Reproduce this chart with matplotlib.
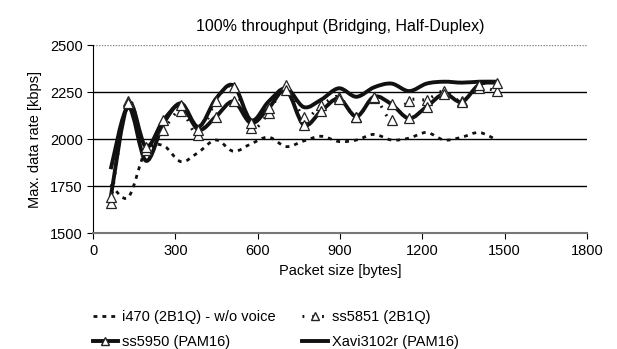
import numpy as np
import matplotlib
matplotlib.use("Agg")
import matplotlib.pyplot as plt
from matplotlib.path import Path
from matplotlib.patches import PathPatch
from matplotlib.lines import Line2D

plt.rcParams['font.family'] = ['Liberation Sans', 'DejaVu Sans']

# === Data ===
packet_size = [64, 128, 192, 256, 320, 384, 448, 512, 576, 640, 704, 768,
               832, 896, 960, 1024, 1088, 1152, 1216, 1280, 1344, 1408, 1472]

i470 = [1760, 1690, 1940, 1965, 1880, 1930, 1995, 1935, 1975, 2010, 1960, 1990,
        2015, 1987, 1995, 2025, 1995, 2005, 2035, 1995, 2010, 2035, 1995]
ss5851 = [1660, 2200, 1940, 2050, 2150, 2020, 2205, 2278, 2060, 2140, 2285, 2115,
          2180, 2225, 2120, 2220, 2100, 2205, 2210, 2255, 2200, 2270, 2255]
ss5950 = [1690, 2190, 1960, 2100, 2180, 2050, 2120, 2200, 2085, 2165, 2260, 2075,
          2150, 2215, 2120, 2225, 2185, 2110, 2172, 2240, 2198, 2290, 2300]
xavi = [1840, 2170, 1885, 2080, 2190, 2065, 2215, 2285, 2100, 2200, 2270, 2170,
        2210, 2270, 2225, 2275, 2295, 2255, 2295, 2305, 2300, 2305, 2305]

labels = ['i470 (2B1Q) - w/o voice', 'ss5851 (2B1Q)', 'ss5950 (PAM16)', 'Xavi3102r (PAM16)']


# === Smoothed line like a spreadsheet "smooth line" (Bezier path through the points) ===
def smooth_path(x, y):
    p = np.column_stack([x, y]).astype(float)
    verts = [p[0]]
    codes = [Path.MOVETO]
    n = len(p)
    for i in range(n - 1):
        p0 = p[i - 1] if i > 0 else p[i]
        p3 = p[i + 2] if i + 2 < n else p[i + 1]
        c1 = p[i] + (p[i + 1] - p0) / 6
        c2 = p[i + 1] - (p3 - p[i]) / 6
        verts += [c1, c2, p[i + 1]]
        codes += [Path.CURVE4] * 3
    return Path(verts, codes)


fig = plt.figure(figsize=(6.17, 3.49), dpi=100)
ax = fig.add_axes([0.151, 0.332, 0.800, 0.539])

styles = [
    dict(ls=(0, (1.4, 1.8)), lw=2.0, marker=None),
    dict(ls=(0, (0.6, 2.6)), lw=2.2, marker='^'),
    dict(ls='-', lw=2.8, marker='^'),
    dict(ls='-', lw=2.8, marker=None),
]
series = [i470, ss5851, ss5950, xavi]

for vals, st in zip(series, styles):
    patch = PathPatch(smooth_path(packet_size, vals), fill=False, edgecolor='#111111',
                      lw=st['lw'], linestyle=st['ls'], capstyle='butt', zorder=3)
    ax.add_patch(patch)
    if st['marker']:
        ax.plot(packet_size, vals, ls='none', marker='^', ms=6.5, mfc='white',
                mec='#222222', mew=0.9, zorder=4)

# === Axes ===
ax.set_xlim(0, 1800)
ax.set_ylim(1500, 2500)
ax.set_xticks(np.arange(0, 1801, 300))
ax.set_yticks(np.arange(1500, 2501, 250))
ax.yaxis.grid(True, color='black', lw=1.0)
ax.get_ygridlines()[-1].set_color('#888888')
ax.get_ygridlines()[-1].set_linestyle((0, (1, 1)))
ax.set_axisbelow(True)
ax.spines['right'].set_visible(False)
ax.spines['top'].set_visible(False)
ax.spines['bottom'].set_color('#777777')
ax.spines['bottom'].set_linewidth(1.5)
ax.tick_params(axis='both', labelsize=10.5, length=4, direction='out')
ax.set_xlabel('Packet size [bytes]', fontsize=10.5, labelpad=5)
ax.set_ylabel('Max. data rate [kbps]', fontsize=10.5, labelpad=6)
ax.set_title('100% throughput (Bridging, Half-Duplex)', fontsize=11.5, pad=10)

# === Legend (row-major order like the reference) ===
handles = [Line2D([], [], color='#111111', lw=st['lw'], ls=st['ls'],
                  marker=st['marker'], ms=6, mfc='white', mec='#222222')
           for st in styles]
order = [0, 2, 1, 3]
fig.legend([handles[i] for i in order], [labels[i] for i in order],
           loc='upper left', bbox_to_anchor=(0.150, 1 - 310 / 349), ncol=2,
           frameon=False, fontsize=10.5, handlelength=1.75, handletextpad=0.3,
           columnspacing=1.8, labelspacing=0.75, borderpad=0, borderaxespad=0)

fig.savefig('out.png', dpi=100)
